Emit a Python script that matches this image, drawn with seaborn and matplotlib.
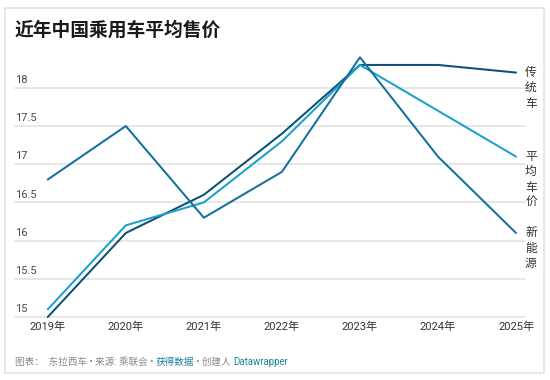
import pandas as pd
import matplotlib.pyplot as plt
import matplotlib.patches as patches
import seaborn as sns

# 数据
years = [2019, 2020, 2021, 2022, 2023, 2024, 2025]
year_labels = ["2019年", "2020年", "2021年", "2022年", "2023年", "2024年", "2025年"]
traditional = [15.0, 16.1, 16.6, 17.4, 18.3, 18.3, 18.2]
average = [15.1, 16.2, 16.5, 17.3, 18.3, 17.7, 17.1]
nev = [16.8, 17.5, 16.3, 16.9, 18.4, 17.1, 16.1]
series_names = ["传统车", "平均车价", "新能源"]
y_ticks = [15, 15.5, 16, 16.5, 17, 17.5, 18]

colors = {"传统车": "#0f4f75", "平均车价": "#18a1cd", "新能源": "#12719c"}

df = pd.DataFrame({
    "year": years * 3,
    "value": traditional + average + nev,
    "series": [series_names[0]] * 7 + [series_names[1]] * 7 + [series_names[2]] * 7,
})

sns.set_style("white")
plt.rcParams["font.family"] = ["Roboto", "Noto Sans CJK SC", "DejaVu Sans"]

W, H = 550, 380
fig = plt.figure(figsize=(5.5, 3.8), dpi=100)
fig.patch.set_facecolor("white")

# 卡片边框
fig.patches.append(patches.Rectangle((5 / W, 1 - 373 / H), 539 / W, 365 / H,
                                     transform=fig.transFigure, facecolor="none",
                                     edgecolor="#e3e3e3", lw=1.2, zorder=-10))

ax = fig.add_axes([15 / W, 1 - 317 / H, 510 / W, 262 / H])
ax.set_facecolor("none")

# 网格线
for t in y_ticks:
    ax.axhline(t, color="#e0e0e0", lw=1.1, zorder=0)
    lab = ("%g" % t)
    ax.annotate(lab, xy=(0, t), xycoords=("axes fraction", "data"),
                xytext=(0, 2), textcoords="offset points",
                ha="left", va="bottom", fontsize=8, color="#4a4a4a")

sns.lineplot(data=df, x="year", y="value", hue="series", palette=colors,
             linewidth=1.45, ax=ax, legend=False)
for line in ax.get_lines():
    line.set_clip_on(False)

ax.set_xlim(2018.58, 2025.115)
ax.set_ylim(15, 18.43)
ax.set_xticks(years)
ax.set_xticklabels(year_labels, fontsize=8, color="#333333")
ax.set_yticks([])
ax.tick_params(axis="x", length=0, pad=3)
ax.set_xlabel("")
ax.set_ylabel("")
for s in ax.spines.values():
    s.set_visible(False)

# 右侧标签
ends = {"传统车": traditional[-1], "平均车价": average[-1], "新能源": nev[-1]}
for name in series_names:
    ax.annotate("\n".join(name), xy=(years[-1], ends[name]), xycoords="data",
                xytext=(6.5, 5), textcoords="offset points",
                ha="left", va="top", fontsize=8.5, color="#333333",
                linespacing=1.25, annotation_clip=False)

# 标题
fig.text(15 / W, 1 - 30 / H, "近年中国乘用车平均售价", fontsize=13.5,
         fontweight="bold", color="#1a1a1a", ha="left", va="center")

# 脚注
parts = [("图表：  东拉西车 • 来源: 乘联会 • ", "#8a8a8a"),
         ("获得数据", "#1d81a2"),
         (" • 创建人 ", "#8a8a8a"),
         ("Datawrapper", "#1d81a2")]
renderer = fig.canvas.get_renderer()
x = 15 / W
for txt, col in parts:
    t = fig.text(x, 1 - 362 / H, txt, fontsize=6.9, color=col, ha="left", va="center")
    bb = t.get_window_extent(renderer=renderer)
    x = bb.x1 / fig.bbox.width

fig.savefig("out.png", dpi=100)
